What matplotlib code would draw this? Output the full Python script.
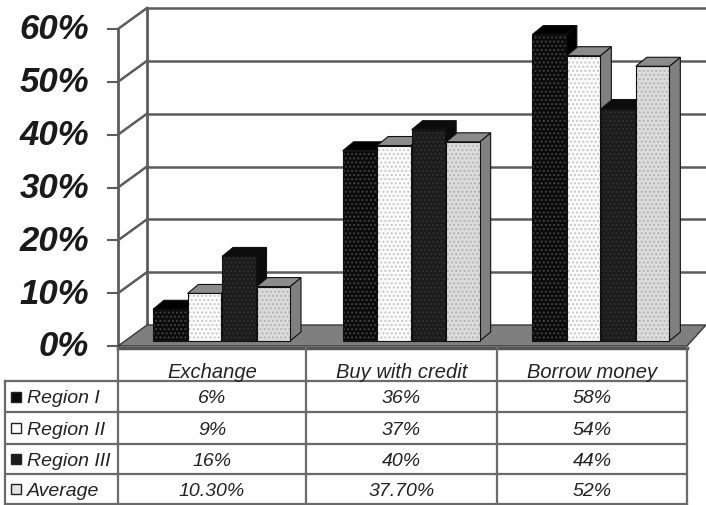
import matplotlib
matplotlib.use('Agg')
import matplotlib.pyplot as plt
from matplotlib.patches import Polygon, Rectangle

plt.rcParams['font.family'] = ['Liberation Sans', 'DejaVu Sans']
plt.rcParams['hatch.linewidth'] = 1.0

categories = ['Exchange', 'Buy with credit', 'Borrow money']
regions = ['Region I', 'Region II', 'Region III', 'Average']
region1 = [6, 36, 58]
region2 = [9, 37, 54]
region3 = [16, 40, 44]
average = [10.3, 37.7, 52]
cell_text = [['6%', '36%', '58%'],
             ['9%', '37%', '54%'],
             ['16%', '40%', '44%'],
             ['10.30%', '37.70%', '52%']]
y_ticks = [0, 10, 20, 30, 40, 50, 60]

series = [region1, region2, region3, average]
face = ['#0a0a0a', '#fbfbfb', '#1c1c1c', '#dcdcdc']
dots = ['#404040', '#c8c8c8', '#303030', '#b4b4b4']
top_col = ['#000000', '#8c8c8c', '#0c0c0c', '#8c8c8c']
side_col = ['#000000', '#808080', '#0c0c0c', '#808080']
line_col = '#5c5c5c'

fig = plt.figure(figsize=(7.06, 5.06), dpi=100)

# plot front plane: 118..687 px wide, 0% at y=347, 60% at y=30
ax = fig.add_axes([118 / 706, 1 - 347 / 506, (687 - 118) / 706, (347 - 30) / 506])
ax.set_xlim(0, 3)
ax.set_ylim(0, 60)
ax.axis('off')

sx = 3 / (687 - 118)   # data units per pixel
sy = 60 / (347 - 30)

depth_x = 29 * sx
depth_y = 21 * sy

# back wall and side wall
for t in y_ticks[1:]:
    ax.plot([0, depth_x], [t, t + depth_y], color=line_col, lw=1.8, clip_on=False)
    ax.plot([depth_x, 3 + 19 * sx], [t + depth_y, t + depth_y], color=line_col, lw=1.8, clip_on=False, zorder=1)
    ax.plot([-10 * sx, 0], [t, t], color=line_col, lw=1.5, clip_on=False)
ax.plot([-10 * sx, 0], [0, 0], color=line_col, lw=1.5, clip_on=False)
ax.plot([0, 0], [0, 60], color=line_col, lw=2, clip_on=False)
ax.plot([depth_x, depth_x], [depth_y, 60 + depth_y], color=line_col, lw=2, clip_on=False)

# floor
floor = [(0, 0), (depth_x, depth_y), (3 + 19 * sx, depth_y), (3, 0)]
ax.add_patch(Polygon(floor, closed=True, facecolor='#7f7f7f', edgecolor='#3a3a3a', lw=1, clip_on=False, zorder=2))
ax.plot([0, 3], [-0.3, -0.3], color='#555555', lw=2.5, clip_on=False, zorder=2)

# bars, sitting a bit inside the floor
base = 5 * sy
bar_w = 34.5 * sx
bar_dx = 11 * sx
bar_dy = 9 * sy
group_left = 35 * sx

for c in range(len(categories)):
    for s, vals in enumerate(series):
        x0 = c + group_left + s * bar_w
        x1 = x0 + bar_w - 1 * sx
        h = vals[c]
        z = 4 + s
        side = [(x1, base), (x1 + bar_dx, base + bar_dy), (x1 + bar_dx, base + h + bar_dy), (x1, base + h)]
        top = [(x0, base + h), (x0 + bar_dx, base + h + bar_dy), (x1 + bar_dx, base + h + bar_dy), (x1, base + h)]
        ax.add_patch(Polygon(side, closed=True, facecolor=side_col[s], edgecolor='#111111', lw=0.8, zorder=z, clip_on=False))
        ax.add_patch(Polygon(top, closed=True, facecolor=top_col[s], edgecolor='#111111', lw=0.8, zorder=z, clip_on=False))
        ax.add_patch(Rectangle((x0, base), x1 - x0, h, facecolor=face[s], edgecolor=dots[s], hatch='....', lw=0, zorder=z, clip_on=False))
        ax.add_patch(Rectangle((x0, base), x1 - x0, h, facecolor='none', edgecolor='#111111', lw=0.8, zorder=z, clip_on=False))

# y tick labels
for t in y_ticks:
    ax.text(-29 * sx, t, f'{t}%', ha='right', va='center', fontsize=25, fontweight='bold',
            fontstyle='italic', color='#1a1a1a', clip_on=False)

# table in pixel coordinates
tb = fig.add_axes([0, 0, 1, 1], facecolor='none')
tb.set_xlim(0, 706)
tb.set_ylim(506, 0)
tb.axis('off')

col_x = [118, 306, 497, 687]
row_y = [382, 413, 445, 475, 505]
tcol = '#6a6a6a'
for x in col_x:
    tb.plot([x, x], [349, 505], color=tcol, lw=1.6)
tb.plot([5, 5], [row_y[0], row_y[-1]], color=tcol, lw=1.6)
for y in row_y:
    tb.plot([5, 687], [y, y], color=tcol, lw=1.6)

for c, name in enumerate(categories):
    tb.text((col_x[c] + col_x[c + 1]) / 2, 372, name, ha='center', va='center', fontsize=14.5,
            fontstyle='italic', color='#222222')

key_face = ['#0a0a0a', '#ffffff', '#1c1c1c', '#e4e4e4']
for r, name in enumerate(regions):
    yc = (row_y[r] + row_y[r + 1]) / 2
    tb.add_patch(Rectangle((11, yc - 5), 10, 10, facecolor=key_face[r], edgecolor='#222222', lw=1))
    tb.text(27, yc + 1.5, name, ha='left', va='center', fontsize=14, fontstyle='italic', color='#222222')
    for c in range(len(categories)):
        tb.text((col_x[c] + col_x[c + 1]) / 2, yc + 1.5, cell_text[r][c], ha='center', va='center',
                fontsize=14, fontstyle='italic', color='#222222')

fig.savefig('out.png', dpi=100)
